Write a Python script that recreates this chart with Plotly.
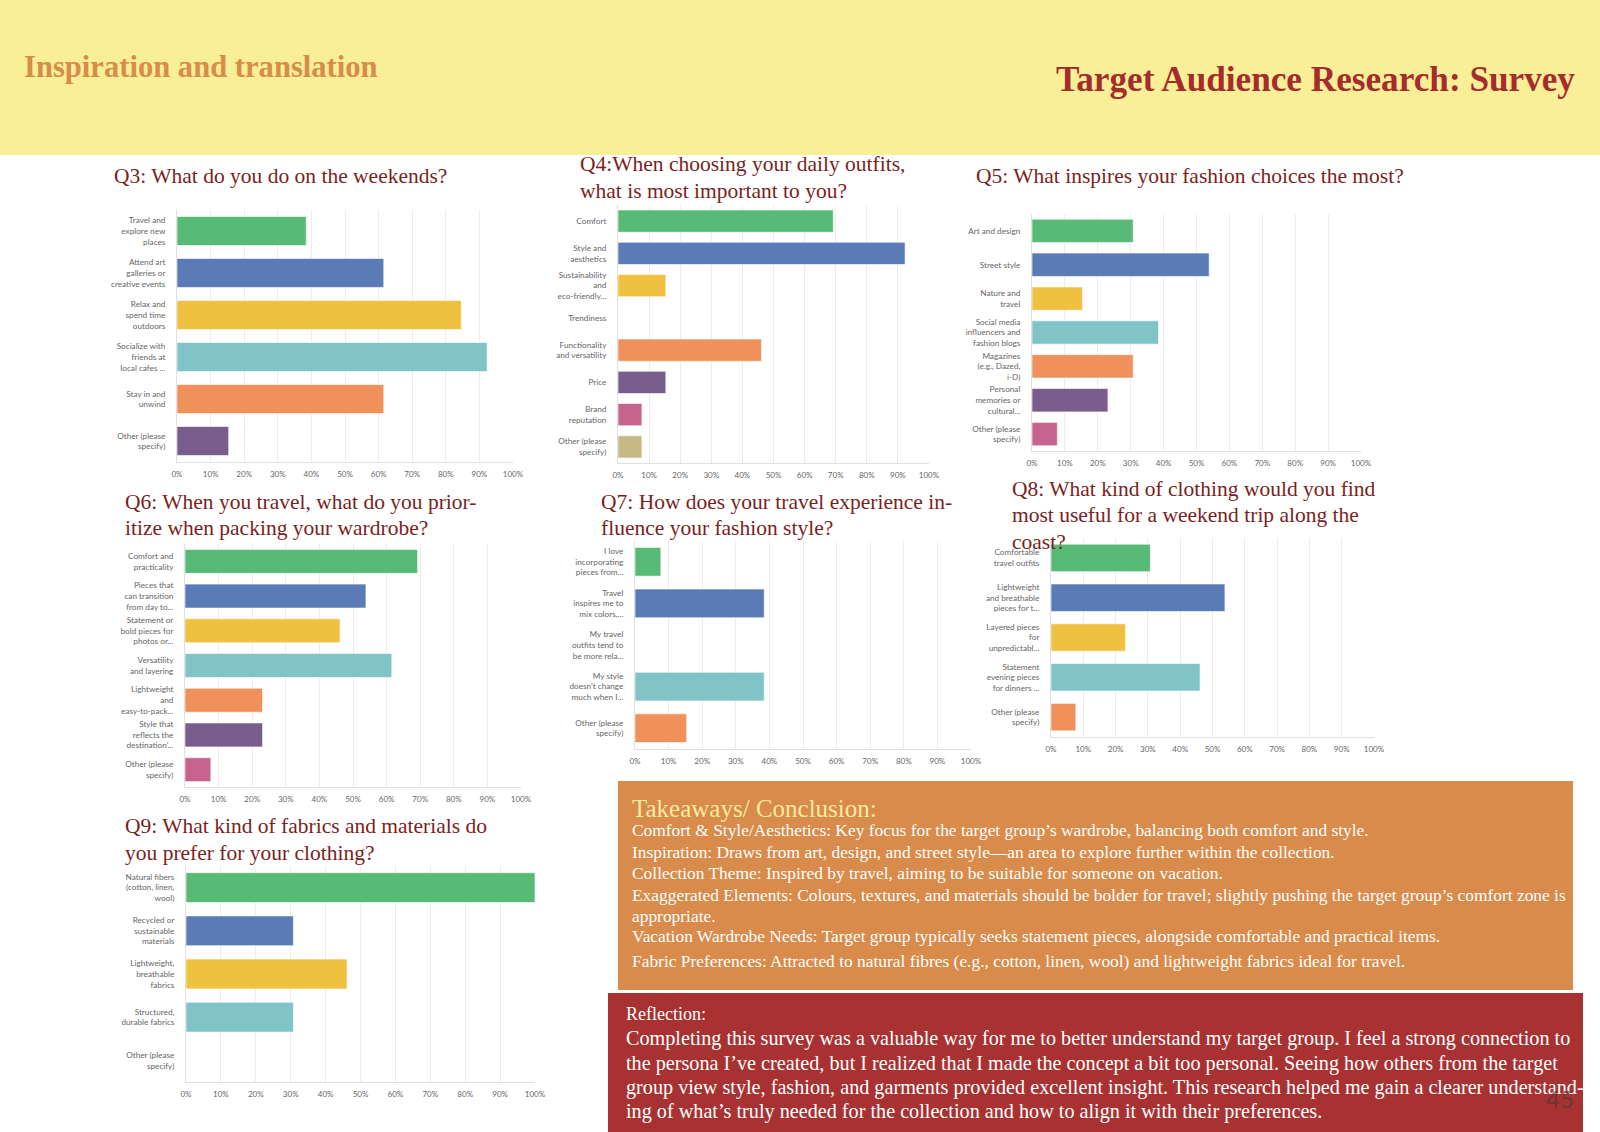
import plotly.graph_objects as go

W, H = 1600, 1132

# survey colours (SurveyMonkey palette)
colors = ["#57bb76", "#5a7bb5", "#f0c040", "#80c4c8", "#f0915c", "#795d8c", "#c6648e", "#c5b985"]

# Q3
q3_labels = ["Travel and<br>explore new<br>places", "Attend art<br>galleries or<br>creative events",
             "Relax and<br>spend time<br>outdoors", "Socialize with<br>friends at<br>local cafes ...",
             "Stay in and<br>unwind", "Other (please<br>specify)"]
q3_values = [38.46, 61.54, 84.62, 92.31, 61.54, 15.38]

# Q4
q4_labels = ["Comfort", "Style and<br>aesthetics", "Sustainability<br>and<br>eco-friendly...",
             "Trendiness", "Functionality<br>and versatility", "Price", "Brand<br>reputation",
             "Other (please<br>specify)"]
q4_values = [69.23, 92.31, 15.38, 0, 46.15, 15.38, 7.69, 7.69]

# Q5
q5_labels = ["Art and design", "Street style", "Nature and<br>travel",
             "Social media<br>influencers and<br>fashion blogs", "Magazines<br>(e.g., Dazed,<br>i-D)",
             "Personal<br>memories or<br>cultural...", "Other (please<br>specify)"]
q5_values = [30.77, 53.85, 15.38, 38.46, 30.77, 23.08, 7.69]

# Q6
q6_labels = ["Comfort and<br>practicality", "Pieces that<br>can transition<br>from day to...",
             "Statement or<br>bold pieces for<br>photos or...", "Versatility<br>and layering",
             "Lightweight<br>and<br>easy-to-pack...", "Style that<br>reflects the<br>destination'...",
             "Other (please<br>specify)"]
q6_values = [69.23, 53.85, 46.15, 61.54, 23.08, 23.08, 7.69]

# Q7
q7_labels = ["I love<br>incorporating<br>pieces from...", "Travel<br>inspires me to<br>mix colors,...",
             "My travel<br>outfits tend to<br>be more rela...", "My style<br>doesn't change<br>much when I...",
             "Other (please<br>specify)"]
q7_values = [7.69, 38.46, 0, 38.46, 15.38]

# Q8
q8_labels = ["Comfortable<br>travel outfits", "Lightweight<br>and breathable<br>pieces for t...",
             "Layered pieces<br>for<br>unpredictabl...", "Statement<br>evening pieces<br>for dinners ...",
             "Other (please<br>specify)"]
q8_values = [30.77, 53.85, 23.08, 46.15, 7.69]

# Q9
q9_labels = ["Natural fibers<br>(cotton, linen,<br>wool)", "Recycled or<br>sustainable<br>materials",
             "Lightweight,<br>breathable<br>fabrics", "Structured,<br>durable fabrics",
             "Other (please<br>specify)"]
q9_values = [100, 30.77, 46.15, 30.77, 0]

pct_ticks = [0, 10, 20, 30, 40, 50, 60, 70, 80, 90, 100]
pct_text = ["0%", "10%", "20%", "30%", "40%", "50%", "60%", "70%", "80%", "90%", "100%"]

# chart boxes in pixels: (left, right, top, bottom)
charts = [
    (q3_labels, q3_values, (177, 513, 210, 462)),
    (q4_labels, q4_values, (618, 929, 205, 463)),
    (q5_labels, q5_values, (1032, 1361, 214, 451)),
    (q6_labels, q6_values, (185, 521, 544, 787)),
    (q7_labels, q7_values, (635, 971, 541, 749)),
    (q8_labels, q8_values, (1051, 1374, 538, 737)),
    (q9_labels, q9_values, (186, 535, 866, 1082)),
]

fig = go.Figure()
layout = {}
for i, (labels, values, box) in enumerate(charts):
    n = "" if i == 0 else str(i + 1)
    l, r, t, b = box
    fig.add_trace(go.Bar(
        x=values, y=labels, orientation="h",
        marker=dict(color=colors[:len(values)], line=dict(color="rgba(255,255,255,0.6)", width=1)),
        xaxis="x" + n, yaxis="y" + n, hoverinfo="x+y", showlegend=False,
    ))
    layout["xaxis" + n] = dict(
        domain=[l / W, r / W], anchor="y" + n, range=[0, 100], automargin=False,
        tickmode="array", tickvals=pct_ticks, ticktext=pct_text,
        showgrid=True, gridcolor="#ececec", gridwidth=1,
        showline=True, linecolor="#e0e0e0", zeroline=False,
        tickfont=dict(family="Lato", size=8, color="#666666"), ticklabelstandoff=4,
        fixedrange=True,
    )
    layout["yaxis" + n] = dict(
        domain=[1 - b / H, 1 - t / H], anchor="x" + n, autorange="reversed", automargin=False,
        showline=True, linecolor="#e0e0e0", showgrid=False,
        tickfont=dict(family="Lato", size=8.2, color="#666666"), ticklabelstandoff=9,
        fixedrange=True,
    )

fig.update_layout(**layout)
fig.update_layout(bargap=0.31)

serif = "Liberation Serif"
title_col = "#7a1f22"
annotations = []


def txt(text, x, y, size, color, xanchor="left", bold=False, family=serif):
    if bold:
        text = "<b>" + text + "</b>"
    annotations.append(dict(
        text=text, x=x / W, y=1 - y / H, xref="paper", yref="paper",
        xanchor=xanchor, yanchor="middle", showarrow=False, align="left",
        font=dict(family=family, size=size, color=color),
    ))


# header
txt("Inspiration and translation", 22, 67, 30.6, "#d98c4a", bold=True)
txt("Target Audience Research: Survey", 1577, 79, 35.2, "#a52c2c", xanchor="right", bold=True)

# question titles (one entry per line)
titles = [
    (112, [(176, "Q3: What do you do on the weekends?")]),
    (578, [(164, "Q4:When choosing your daily outfits,"), (191, "what is most important to you?")]),
    (974, [(176, "Q5: What inspires your fashion choices the most?")]),
    (123, [(502, "Q6: When you travel, what do you prior-"), (528, "itize when packing your wardrobe?")]),
    (599, [(502, "Q7: How does your travel experience in-"), (528, "fluence your fashion style?")]),
    (1010, [(489, "Q8: What kind of clothing would you find"),
            (515, "most useful for a weekend trip along the"), (542, "coast?")]),
    (123, [(826, "Q9: What kind of fabrics and materials do"), (853, "you prefer for your clothing?")]),
]
for x, lines in titles:
    for y, line in lines:
        txt(line, x, y, 21.5, title_col)

# takeaways box text
txt("Takeaways/ Conclusion:", 630, 808, 25, "#f8eaa2")
take_lines = [
    (830, "Comfort &amp; Style/Aesthetics: Key focus for the target group’s wardrobe, balancing both comfort and style."),
    (852, "Inspiration: Draws from art, design, and street style—an area to explore further within the collection."),
    (873, "Collection Theme: Inspired by travel, aiming to be suitable for someone on vacation."),
    (895, "Exaggerated Elements: Colours, textures, and materials should be bolder for travel; slightly pushing the target group’s comfort zone is"),
    (916, "appropriate."),
    (936, "Vacation Wardrobe Needs: Target group typically seeks statement pieces, alongside comfortable and practical items."),
    (961, "Fabric Preferences: Attracted to natural fibres (e.g., cotton, linen, wool) and lightweight fabrics ideal for travel."),
]
for y, line in take_lines:
    txt(line, 630, y, 17.4, "white")

# reflection box text
txt("Reflection:", 624, 1014, 18, "white")
refl_lines = [
    (1038, "Completing this survey was a valuable way for me to better understand my target group. I feel a strong connection to"),
    (1063, "the persona I’ve created, but I realized that I made the concept a bit too personal. Seeing how others from the target"),
    (1087, "group view style, fashion, and garments provided excellent insight. This research helped me gain a clearer understand-"),
    (1111, "ing of what’s truly needed for the collection and how to align it with their preferences."),
]
for y, line in refl_lines:
    txt(line, 624, y, 20.2, "white")

txt("45", 1560, 1098, 24, "rgba(70,55,55,0.6)", xanchor="center", family="Lato")

shapes = [
    dict(type="rect", xref="paper", yref="paper", x0=0, x1=1, y0=1 - 155 / H, y1=1,
         fillcolor="#f9ef97", line=dict(width=0), layer="below"),
    dict(type="rect", xref="paper", yref="paper", x0=618 / W, x1=1573 / W,
         y0=1 - 990 / H, y1=1 - 781 / H, fillcolor="#d88b4b", line=dict(width=0), layer="below"),
    dict(type="rect", xref="paper", yref="paper", x0=608 / W, x1=1583 / W,
         y0=0, y1=1 - 993 / H, fillcolor="#a83232", line=dict(width=0), layer="below"),
]

fig.update_layout(
    width=W, height=H, margin=dict(l=0, r=0, t=0, b=0),
    paper_bgcolor="white", plot_bgcolor="white",
    annotations=annotations, shapes=shapes,
)

# drop the default page margin and scrollbars so the slide fills the window
fig.write_html(
    "out.html",
    config={"displayModeBar": False},
    post_script="document.body.style.margin='0';"
                "document.body.style.overflow='hidden';"
                "document.documentElement.style.overflow='hidden';",
)
